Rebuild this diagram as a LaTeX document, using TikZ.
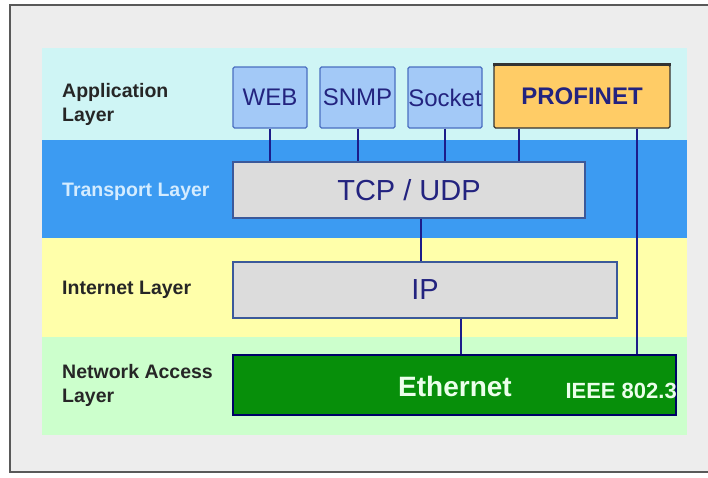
\documentclass[tikz,border=0pt]{standalone}
\usepackage{fontspec}
\setmainfont{Liberation Sans}
\definecolor{framegray}{HTML}{EDEDED}
\definecolor{appband}{HTML}{CFF5F5}
\definecolor{transband}{HTML}{3C9BF2}
\definecolor{netband}{HTML}{FFFFAA}
\definecolor{accband}{HTML}{CCFFCC}
\definecolor{protofill}{HTML}{A3C9F7}
\definecolor{protoline}{HTML}{4A6FC0}
\definecolor{profifill}{HTML}{FFCC66}
\definecolor{stackfill}{HTML}{DCDCDC}
\definecolor{ethfill}{HTML}{078F0A}
\definecolor{navy}{HTML}{23237F}
\definecolor{wire}{HTML}{1C1C8A}
\definecolor{translabel}{HTML}{D4ECFF}
\tikzset{
  layerlabel/.style={anchor=west, align=left, inner sep=0pt, text=black!85,
    font=\fontsize{19.5}{24}\selectfont\bfseries},
  protobox/.style={draw=protoline, fill=protofill, line width=1.2pt, rounded corners=1.5pt,
    inner sep=0pt, text=navy, font=\fontsize{24}{28}\selectfont},
  stackbox/.style={draw=protoline!80!black, fill=stackfill, line width=1.2pt,
    inner sep=0pt, text=navy, font=\fontsize{29}{32}\selectfont},
  wireline/.style={draw=wire, line width=2pt}
}
\begin{document}
\begin{tikzpicture}[x=1pt,y=-1pt]
  \useasboundingbox (0,0) rectangle (708,477);
  % frame and layer bands
  \draw[fill=framegray, draw=black!65, line width=1.5pt] (10,5) rectangle (720,472);
  \fill[appband] (42,48) rectangle (687,140);
  \fill[transband] (42,140) rectangle (687,238);
  \fill[netband] (42,238) rectangle (687,337);
  \fill[accband] (42,337) rectangle (687,435);
  % layer names
  \node[layerlabel] (lapp) at (62,104) {Application\\Layer};
  \node[layerlabel, text=translabel] (ltrans) at (62,192) {Transport Layer};
  \node[layerlabel] (linet) at (62,290) {Internet Layer};
  \node[layerlabel] (lacc) at (62,385) {Network Access\\Layer};
  % application protocols
  \node[protobox, minimum width=74, minimum height=61] (web) at (270,97.5) {WEB};
  \node[protobox, minimum width=75, minimum height=61] (snmp) at (357.5,97.5) {SNMP};
  \node[protobox, minimum width=74, minimum height=61] (socket) at (445,97.5) {Socket};
  \node[draw=black!80, fill=profifill, line width=1.2pt, rounded corners=1.5pt,
    minimum width=176, minimum height=63, inner sep=0pt, text=navy,
    font=\fontsize{24}{28}\selectfont\bfseries] (profinet) at (582,96.5) {PROFINET};
  \draw[black!80, line width=2.5pt] (profinet.north west) -- (profinet.north east);
  % stack
  \node[stackbox, minimum width=352, minimum height=56] (tcp) at (409,190) {TCP / UDP};
  \node[stackbox, minimum width=384, minimum height=56] (ip) at (425,290) {IP};
  \node[draw=black!60!blue, fill=ethfill, line width=1.2pt, minimum width=443,
    minimum height=60, inner sep=0pt] (eth) at (454.5,385) {};
  \node[text=green!8, font=\fontsize{28}{30}\selectfont\bfseries] (ethname) at (455,386) {Ethernet};
  \node[anchor=east, inner sep=0pt, text=green!8, font=\fontsize{22}{24}\selectfont\bfseries]
    (ieee) at (677,391) {IEEE 802.3};
  % connectors
  \draw[wireline] (web.south) -- (web.south |- tcp.north);
  \draw[wireline] (snmp.south) -- (snmp.south |- tcp.north);
  \draw[wireline] (socket.south) -- (socket.south |- tcp.north);
  \draw[wireline] ([xshift=26]profinet.south west) -- ([xshift=26]profinet.south west |- tcp.north);
  \draw[wireline] ([xshift=-34]profinet.south east) -- ([xshift=-34]profinet.south east |- eth.north);
  \draw[wireline] ([xshift=12]tcp.south) -- ([xshift=12]tcp.south |- ip.north);
  \draw[wireline] ([xshift=36]ip.south) -- ([xshift=36]ip.south |- eth.north);
\end{tikzpicture}
\end{document}
